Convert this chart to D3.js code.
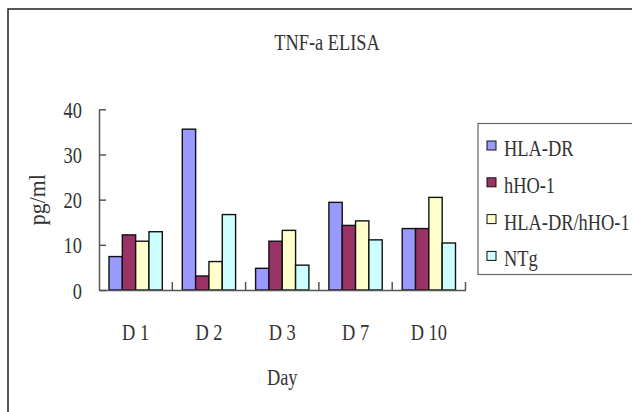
<!DOCTYPE html>
<html>
<head>
<meta charset="utf-8">
<script src="https://cdn.jsdelivr.net/npm/d3@7"></script>
<style>
  html, body { margin: 0; padding: 0; background: #fff; }
  svg { display: block; }
  text { font-family: "Liberation Serif", "Times New Roman", serif; fill: #333; }
</style>
</head>
<body>
<svg id="chart" width="632" height="412"></svg>
<script>
// TNF-a ELISA readings (pg/ml) per day for each group
const categories = ["D 1", "D 2", "D 3", "D 7", "D 10"];
const seriesNames = ["HLA-DR", "hHO-1", "HLA-DR/hHO-1", "NTg"];
const hlaDR     = [7.4, 35.6, 4.8, 19.4, 13.6];
const hHO1      = [12.2, 3.1, 10.8, 14.3, 13.6];
const hlaDRhHO1 = [10.8, 6.3, 13.2, 15.3, 20.5];
const ntg       = [12.9, 16.7, 5.5, 11.1, 10.4];
const yTicks = [0, 10, 20, 30, 40];
const seriesColors = ["#9999FF", "#993366", "#FFFFCC", "#CCFFFF"];

const seriesValues = [hlaDR, hHO1, hlaDRhHO1, ntg];
const rows = categories.map((c, i) => ({
  day: c,
  values: seriesNames.map((s, j) => ({ name: s, value: seriesValues[j][i] }))
}));

const svg = d3.select("#chart");
const SX = 0.8;          // narrow serif look
const FS = 23;

// outer chart frame (runs off the right and bottom edges)
svg.append("rect")
  .attr("x", 8).attr("y", 9).attr("width", 700).attr("height", 500)
  .attr("fill", "none").attr("stroke", "#222").attr("stroke-width", 1.5);

const plotLeft = 99, plotRight = 465.5, plotTop = 109.3, plotBottom = 290;

const x0 = d3.scaleBand().domain(categories).range([plotLeft, plotRight]).padding(0);
const x1 = d3.scaleBand().domain(seriesNames)
  .range([10, x0.bandwidth() - 10]).padding(0);
const y = d3.scaleLinear().domain([0, 40]).range([plotBottom, plotTop]);

function condense(sel) {
  sel.each(function () {
    const t = d3.select(this);
    const tx = +t.attr("data-x") || 0, ty = +t.attr("data-y") || 0;
    t.attr("x", 0).attr("y", 0).attr("dy", null)
     .attr("transform", `translate(${tx},${ty}) scale(${SX},1)`);
  });
}

// title
svg.append("text")
  .attr("data-x", 327).attr("data-y", 50)
  .attr("text-anchor", "middle").style("font-size", FS + "px")
  .text("TNF-a ELISA").call(condense);

// bars
const g = svg.append("g");
g.selectAll("g.grp").data(rows).join("g")
  .attr("class", "grp")
  .attr("transform", d => `translate(${x0(d.day)},0)`)
  .selectAll("rect").data(d => d.values).join("rect")
  .attr("x", d => x1(d.name))
  .attr("width", x1.bandwidth())
  .attr("y", d => y(d.value))
  .attr("height", d => y(0) - y(d.value))
  .attr("fill", (d, i) => seriesColors[i])
  .attr("stroke", "#111").attr("stroke-width", 1.4);

// y axis
const yAxis = svg.append("g")
  .attr("transform", `translate(${plotLeft},0)`)
  .call(d3.axisLeft(y).tickValues(yTicks).tickSize(-7).tickPadding(17).tickSizeOuter(0));
yAxis.select(".domain").attr("stroke", "#555").attr("stroke-width", 1.5);
yAxis.selectAll(".tick line").attr("stroke", "#555").attr("stroke-width", 1.5);
yAxis.selectAll(".tick text")
  .style("font-size", FS + "px")
  .attr("data-x", -17).attr("data-y", 8)
  .call(condense);

// x axis
const xAxis = svg.append("g")
  .attr("transform", `translate(0,${plotBottom})`)
  .call(d3.axisBottom(x0).tickSize(0).tickSizeOuter(0));
xAxis.select(".domain").attr("stroke", "#555").attr("stroke-width", 1.5);
xAxis.selectAll(".tick text")
  .style("font-size", FS + "px")
  .attr("data-x", 0).attr("data-y", 50)
  .call(condense);

// category separators, pointing up into the plot
xAxis.selectAll("line.sep").data(categories).join("line")
  .attr("class", "sep")
  .attr("x1", d => x0(d) + x0.bandwidth()).attr("x2", d => x0(d) + x0.bandwidth())
  .attr("y1", 0).attr("y2", -8)
  .attr("stroke", "#555").attr("stroke-width", 1.5);

// axis titles
svg.append("text")
  .attr("data-x", (plotLeft + plotRight) / 2).attr("data-y", 385)
  .attr("text-anchor", "middle").style("font-size", FS + "px")
  .text("Day").call(condense);

svg.append("text")
  .attr("text-anchor", "middle").style("font-size", FS + "px")
  .attr("transform", `translate(45,${(plotTop + plotBottom) / 2}) rotate(-90) scale(0.95,1)`)
  .text("pg/ml");

// legend
const legend = svg.append("g").attr("transform", "translate(478,123.5)");
legend.append("rect")
  .attr("x", 0).attr("y", 0).attr("width", 200).attr("height", 151)
  .attr("fill", "#fff").attr("stroke", "#666").attr("stroke-width", 1.2);
const items = legend.selectAll("g.item").data(seriesNames).join("g")
  .attr("class", "item")
  .attr("transform", (d, i) => `translate(0,${32.5 + i * 36.8})`);
items.append("rect")
  .attr("x", 9).attr("y", -15).attr("width", 9).attr("height", 9)
  .attr("fill", (d, i) => seriesColors[i])
  .attr("stroke", "#111").attr("stroke-width", 1);
items.append("text")
  .style("font-size", FS + "px")
  .attr("data-x", 26).attr("data-y", 0)
  .text(d => d).call(condense);
</script>
</body>
</html>
